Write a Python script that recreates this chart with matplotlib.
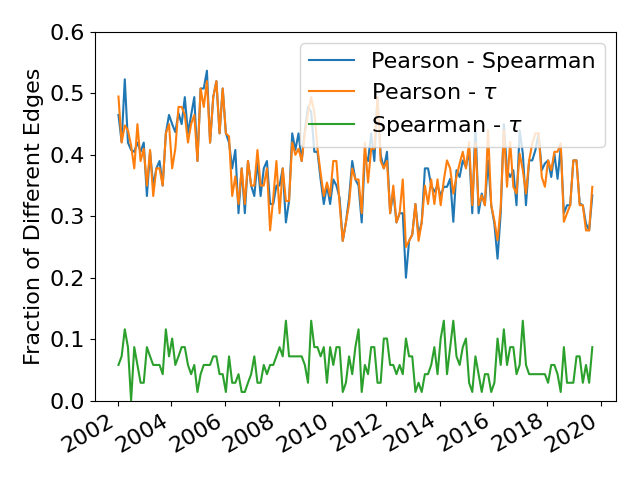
import matplotlib
matplotlib.use("Agg")
import matplotlib.pyplot as plt
import pandas as pd

pearson_spearman = [
    0.465,0.421,0.523,0.42,0.408,0.405,0.42,0.405,0.42,0.333,
    0.405,0.35,0.378,0.39,0.35,0.435,0.465,0.45,0.437,0.468,
    0.45,0.494,0.435,0.465,0.494,0.39,0.508,0.508,0.537,0.42,
    0.494,0.52,0.435,0.508,0.435,0.42,0.378,0.408,0.305,0.378,
    0.305,0.39,0.35,0.333,0.39,0.333,0.378,0.39,0.32,0.32,
    0.35,0.35,0.378,0.29,0.325,0.435,0.408,0.435,0.39,0.44,
    0.478,0.47,0.405,0.405,0.36,0.32,0.35,0.32,0.36,0.35,
    0.33,0.26,0.29,0.33,0.39,0.36,0.35,0.29,0.40,0.39,
    0.435,0.39,0.494,0.40,0.378,0.405,0.305,0.34,0.29,0.305,
    0.305,0.20,0.26,0.27,0.32,0.27,0.29,0.378,0.378,
    0.35,0.34,0.35,
    0.334,0.348,0.348,0.361,0.291,0.375,0.364,0.391,0.380,0.408,
    0.305,0.45,0.305,0.337,0.318,0.391,0.318,0.288,0.231,0.305,
    0.45,0.375,0.364,0.375,0.318,0.44,0.402,0.318,0.391,0.391,
    0.408,0.435,0.375,0.386,0.391,0.364,0.402,0.361,0.413,0.305,
    0.318,0.318,0.391,0.391,0.321,0.318,0.288,0.277,0.334,
]

pearson_tau = [
    0.495,0.42,0.448,0.44,0.415,0.378,0.45,0.39,0.41,0.35,
    0.408,0.333,0.378,0.378,0.35,0.435,0.45,0.378,0.41,0.478,
    0.478,0.465,0.42,0.45,0.465,0.39,0.508,0.478,0.52,0.42,
    0.494,0.52,0.435,0.508,0.435,0.43,0.333,0.365,0.32,0.378,
    0.32,0.39,0.35,0.35,0.408,0.35,0.35,0.378,0.277,0.33,
    0.39,0.305,0.378,0.325,0.325,0.42,0.40,0.41,0.39,0.435,
    0.467,0.494,0.47,0.41,0.37,0.333,0.355,0.333,0.39,0.39,
    0.32,0.26,0.29,0.32,0.378,0.36,0.36,0.305,0.42,0.355,
    0.41,0.41,0.494,0.39,0.378,0.39,0.305,0.35,0.29,0.305,
    0.36,0.25,0.26,0.27,0.32,0.26,0.29,0.35,0.32,
    0.36,0.32,0.36,
    0.318,0.359,0.391,0.378,0.337,0.364,0.386,0.405,0.378,0.421,
    0.318,0.419,0.318,0.334,0.318,0.44,0.318,0.293,0.261,0.315,
    0.44,0.348,0.421,0.348,0.337,0.402,0.375,0.337,0.391,0.419,
    0.435,0.435,0.364,0.348,0.391,0.375,0.405,0.405,0.419,0.291,
    0.305,0.318,0.391,0.391,0.318,0.318,0.277,0.277,0.348,
]

spearman_tau = [
    0.058,0.072,0.116,0.087,0.0,0.087,0.058,0.029,0.029,0.087,
    0.072,0.058,0.058,0.058,0.043,0.116,0.072,0.101,0.058,0.072,
    0.087,0.087,0.058,0.043,0.058,0.014,0.043,0.058,0.058,0.058,
    0.072,0.072,0.043,0.043,0.014,0.072,0.029,0.029,0.043,0.014,
    0.014,0.029,0.043,0.072,0.029,0.029,0.058,0.043,0.058,0.058,
    0.072,0.087,0.072,0.130,0.072,0.072,0.072,0.072,0.072,0.058,
    0.029,0.130,0.087,0.087,0.072,0.087,0.029,0.087,0.058,0.087,
    0.087,0.014,0.029,0.072,0.043,0.087,0.116,
    0.014,0.058,0.043,0.087,0.087,0.029,0.029,0.101,0.101,0.058,
    0.058,0.043,0.058,0.043,0.101,0.072,0.072,0.014,0.029,0.014,
    0.043,0.043,0.058,0.087,0.043,0.101,0.130,0.043,0.087,0.130,
    0.072,0.058,0.087,0.101,0.029,0.014,0.072,0.043,0.014,0.043,
    0.043,0.014,0.029,0.101,0.058,0.116,0.058,0.087,0.087,0.043,
    0.058,0.130,0.058,0.043,0.043,0.043,0.043,0.043,0.043,0.029,
    0.058,0.058,0.043,0.014,0.087,0.029,0.029,0.029,0.072,0.072,
    0.029,0.058,0.029,0.087,
]

labels = ["Pearson - Spearman", r"Pearson - $\tau$", r"Spearman - $\tau$"]

dates = pd.date_range("2002-01-10", "2019-09-10", periods=len(spearman_tau))

plt.rcParams["font.size"] = 16
fig, ax = plt.subplots(figsize=(6.4, 4.8), dpi=100)
ax.plot(dates, pearson_spearman, label=labels[0])
ax.plot(dates, pearson_tau, label=labels[1])
ax.plot(dates, spearman_tau, label=labels[2])
ax.set_ylim(0, 0.6)
ax.set_ylabel("Fraction of Different Edges")
ax.legend(loc="upper right")
fig.autofmt_xdate()
fig.tight_layout()
fig.savefig("out.png", dpi=100)
